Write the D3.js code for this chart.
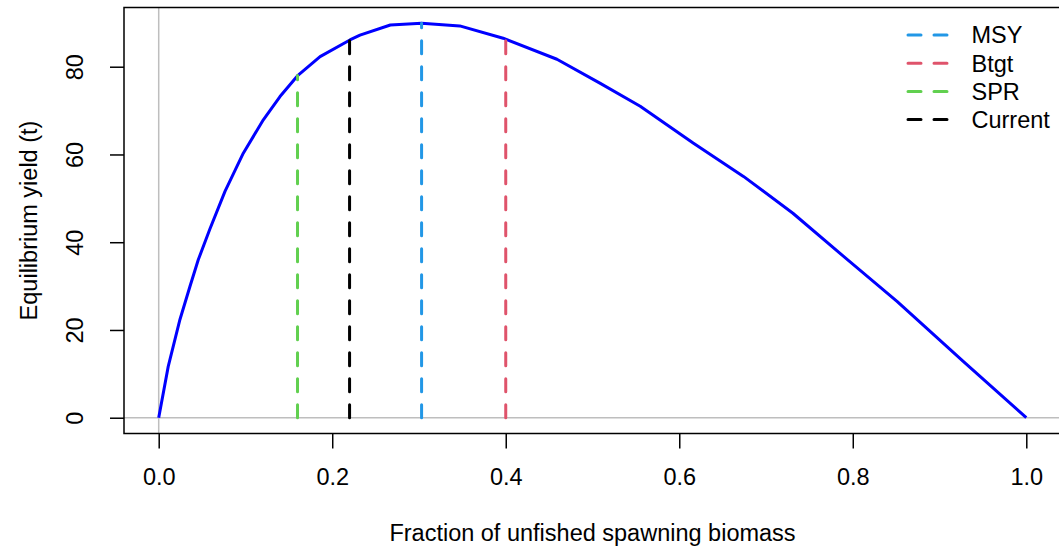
<!DOCTYPE html>
<html>
<head>
<meta charset="utf-8">
<script src="https://cdn.jsdelivr.net/npm/d3@7"></script>
<style>
  body { margin: 0; background: #ffffff; }
  svg text { font-family: "Liberation Sans", Arial, sans-serif; fill: #000000; }
</style>
</head>
<body>
<svg id="chart" width="1059" height="549"></svg>
<script>

// equilibrium yield curve
var vfDepletion = [0, 0.011, 0.0245, 0.036, 0.0456, 0.059, 0.0764, 0.0975, 0.1206, 0.1398, 0.1598, 0.186,
                   0.2204, 0.232, 0.267, 0.303, 0.347, 0.397, 0.459, 0.509, 0.555, 0.616, 0.674, 0.731,
                   0.785, 0.851, 0.927, 1.0];
var vfYield     = [0, 11.7, 22.4, 29.9, 36.0, 43.0, 51.6, 60.3, 67.9, 73.2, 77.9, 82.3,
                   86.1, 87.2, 89.5, 89.9, 89.3, 86.5, 81.7, 76.2, 71.0, 62.6, 55.0, 46.6,
                   37.5, 26.5, 12.9, 0];

// reference points (vertical dashed lines)
var vsRefName   = ["MSY", "Btgt", "SPR", "Current"];
var vfRefX      = [0.303, 0.40, 0.16, 0.22];
var vfRefY      = [89.9, 86.3, 78.0, 86.0];
var vsRefColor  = ["#2297E6", "#DF536B", "#61D04F", "#000000"];

var vfTickX = [0, 0.2, 0.4, 0.6, 0.8, 1.0];
var vfTickY = [0, 20, 40, 60, 80];

var g_sAxisTitleX = "Fraction of unfished spawning biomass";
var g_sAxisTitleY = "Equilibrium yield (t)";

var g_nFontSize = 23.5;
var g_colorGrey = "#bebebe";

// plot region (R style, 4% padding on both axes)
var nLeft = 124, nRight = 1061, nTop = 7.5, nBottom = 433.5;

var fYMax = d3.max(vfYield);

var scaleX = d3.scaleLinear().domain([-0.04, 1.04]).range([nLeft, nRight]);
var scaleY = d3.scaleLinear().domain([-0.04 * fYMax, 1.04 * fYMax]).range([nBottom, nTop]);

var svg = d3.select("#chart");

// grey zero lines
svg.append("line")
    .attr("x1", scaleX(0)).attr("x2", scaleX(0))
    .attr("y1", nTop).attr("y2", nBottom)
    .attr("stroke", g_colorGrey).attr("stroke-width", 1.5);

svg.append("line")
    .attr("x1", nLeft).attr("x2", nRight)
    .attr("y1", scaleY(0)).attr("y2", scaleY(0))
    .attr("stroke", g_colorGrey).attr("stroke-width", 1.5);

// yield curve
var tjCurve = vfDepletion.map(function(d, i) { return [d, vfYield[i]]; });

svg.append("path")
    .datum(tjCurve)
    .attr("d", d3.line()
        .x(function(d) { return scaleX(d[0]); })
        .y(function(d) { return scaleY(d[1]); }))
    .attr("fill", "none")
    .attr("stroke", "#0000FF")
    .attr("stroke-width", 3)
    .attr("stroke-linejoin", "round");

// dashed reference lines, drawn from 0 upwards
svg.selectAll("line.refline")
    .data(vsRefName)
    .enter()
    .append("line")
        .attr("class", "refline")
        .attr("x1", function(d, i) { return scaleX(vfRefX[i]); })
        .attr("x2", function(d, i) { return scaleX(vfRefX[i]); })
        .attr("y1", scaleY(0))
        .attr("y2", function(d, i) { return scaleY(vfRefY[i]); })
        .attr("stroke", function(d, i) { return vsRefColor[i]; })
        .attr("stroke-width", 3)
        .attr("stroke-dasharray", "13,13")
        .attr("stroke-linecap", "round");

// axes
var axisX = svg.append("g")
    .attr("transform", "translate(0," + nBottom + ")")
    .call(d3.axisBottom(scaleX).tickValues(vfTickX).tickFormat(d3.format(".1f")).tickSize(15));

var axisY = svg.append("g")
    .attr("transform", "translate(" + nLeft + ",0)")
    .call(d3.axisLeft(scaleY).tickValues(vfTickY).tickSize(14));

axisX.select(".domain").remove();
axisY.select(".domain").remove();

svg.selectAll(".tick line").attr("stroke", "#000").attr("stroke-width", 1.5);

axisX.selectAll(".tick text")
    .attr("y", 51.5)
    .attr("dy", 0)
    .attr("font-size", g_nFontSize)
    .attr("font-family", null);

axisY.selectAll(".tick text")
    .attr("x", null)
    .attr("dy", null)
    .attr("transform", "translate(-41,0) rotate(-90)")
    .attr("text-anchor", "middle")
    .attr("font-size", g_nFontSize)
    .attr("font-family", null);

// box
svg.append("rect")
    .attr("x", nLeft).attr("y", nTop)
    .attr("width", nRight - nLeft).attr("height", nBottom - nTop)
    .attr("fill", "none")
    .attr("stroke", "#000")
    .attr("stroke-width", 1.5);

// axis titles
svg.append("text")
    .attr("x", (scaleX(0) + scaleX(1)) / 2)
    .attr("y", 541)
    .attr("text-anchor", "middle")
    .attr("font-size", g_nFontSize)
    .text(g_sAxisTitleX);

svg.append("text")
    .attr("transform", "translate(37," + ((nTop + nBottom) / 2) + ") rotate(-90)")
    .attr("text-anchor", "middle")
    .attr("font-size", g_nFontSize)
    .text(g_sAxisTitleY);

// legend (no box)
var nLegendX = 908, nLegendY = 35, nLegendStep = 28.2;

var gLegend = svg.selectAll("g.legend")
    .data(vsRefName)
    .enter()
    .append("g")
        .attr("class", "legend")
        .attr("transform", function(d, i) { return "translate(" + nLegendX + "," + (nLegendY + i * nLegendStep) + ")"; });

gLegend.append("line")
    .attr("x1", 0).attr("x2", 42)
    .attr("y1", 0).attr("y2", 0)
    .attr("stroke", function(d, i) { return vsRefColor[i]; })
    .attr("stroke-width", 3)
    .attr("stroke-dasharray", "13,13")
    .attr("stroke-linecap", "round");

gLegend.append("text")
    .attr("x", 63.5)
    .attr("y", 0)
    .attr("dy", "0.36em")
    .attr("font-size", g_nFontSize)
    .text(function(d) { return d; });

</script>
</body>
</html>
